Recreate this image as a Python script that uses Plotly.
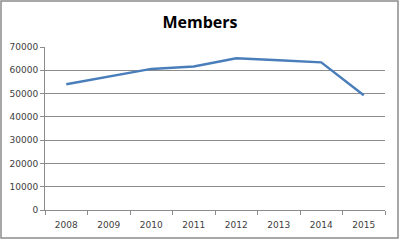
import plotly.graph_objects as go

years = ["2008", "2009", "2010", "2011", "2012", "2013", "2014", "2015"]
members = [54000, 57300, 60600, 61600, 65200, 64300, 63400, 49300]

fig = go.Figure()
fig.add_trace(go.Scatter(x=years, y=members, mode="lines",
                         line=dict(color="#4A7EBB", width=2.5)))

L, R, T, B = 45, 385, 47, 210
W, H = 400, 240
pw, ph = R - L, B - T
fig.update_layout(
    width=W, height=H,
    margin=dict(l=L, r=W - R, t=T, b=H - B),
    paper_bgcolor="white", plot_bgcolor="white",
    showlegend=False,
    title=dict(text="<b>Members</b>", x=0.5, xanchor="center", y=1 - 22 / H, yanchor="middle",
               font=dict(family="Open Sans, Calibri, sans-serif", size=16, color="black")),
    font=dict(family="DejaVu Sans", size=9, color="#404040"),
    xaxis=dict(type="category", range=[-0.5, 7.5], showgrid=False, showline=True,
               linecolor="#8C8C8C", linewidth=1, automargin=False,
               ticks="outside", tickson="boundaries", ticklen=4, tickcolor="#8C8C8C",
               ticklabelstandoff=6,
               tickfont=dict(size=9, color="#404040")),
    yaxis=dict(range=[0, 70000], dtick=10000, tickformat="d", showgrid=True,
               gridcolor="#8C8C8C", gridwidth=1, automargin=False,
               showline=True, linecolor="#8C8C8C", linewidth=1, ticks="outside", ticklen=4,
               tickcolor="#8C8C8C", zeroline=False, tickfont=dict(size=9, color="#404040")),
    shapes=[dict(type="rect", xref="paper", yref="paper",
                 x0=(1 - L) / pw, x1=(398 - L) / pw,
                 y0=(B - 238) / ph, y1=(B - 1) / ph,
                 line=dict(color="#8C8C8C", width=1.5))],
)
fig.write_html("out.html")
